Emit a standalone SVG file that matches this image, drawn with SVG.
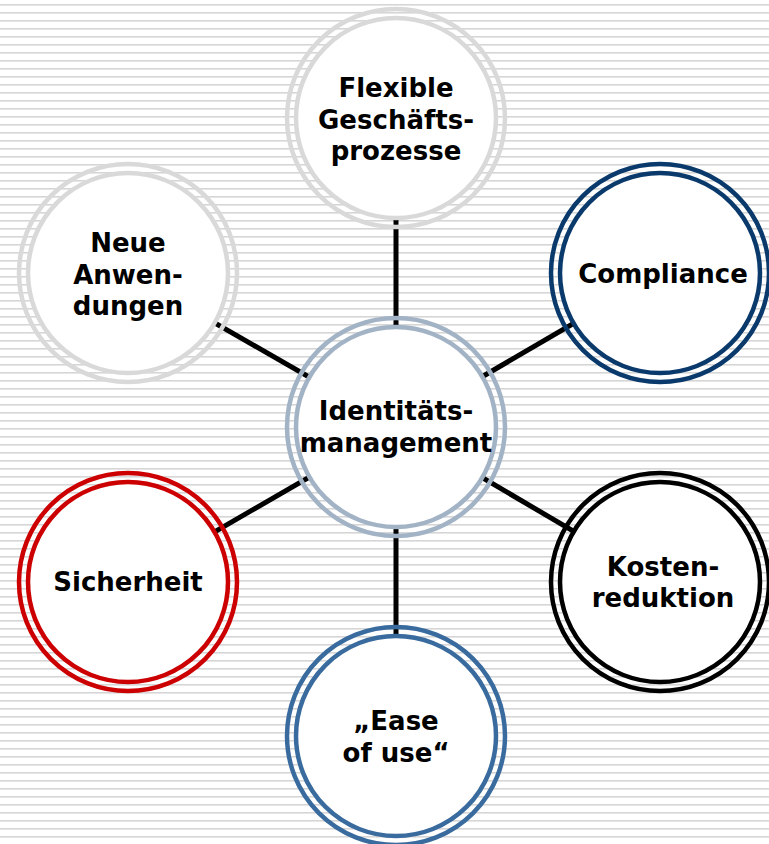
<svg xmlns="http://www.w3.org/2000/svg" width="769" height="844" viewBox="0 0 769 844">
<defs>
<pattern id="stripes" x="0" y="4" width="769" height="8" patternUnits="userSpaceOnUse">
<rect x="0" y="0" width="769" height="1.6" fill="#d6d6d6"/>
</pattern>
</defs>
<style>
.outer{fill:none;stroke-width:4.5}
.inner{fill:#ffffff;stroke-width:4.5}
.lbl{font-family:"DejaVu Sans",Verdana,sans-serif;font-weight:bold;font-size:26px;fill:#000;text-anchor:middle}
.gray{stroke:#d9d9d9}
.center{stroke:#a3b3c6}
.navy{stroke:#0a3a6c}
.black{stroke:#000000}
.blue{stroke:#3a6b9e}
.red{stroke:#cc0000}
.conn line{stroke:#000;stroke-width:5}
</style>
<rect width="769" height="844" fill="#ffffff"/>
<rect width="769" height="844" fill="url(#stripes)"/>
<g id="connectors" class="conn">
<line x1="396" y1="427" x2="396" y2="118"/>
<line x1="396" y1="427" x2="128" y2="273"/>
<line x1="396" y1="427" x2="660" y2="273"/>
<line x1="396" y1="427" x2="128" y2="582"/>
<line x1="396" y1="427" x2="660" y2="582"/>
<line x1="396" y1="427" x2="396" y2="736"/>
</g>
<g id="node-flexible">
<circle class="outer gray" cx="396" cy="118" r="109"/>
<circle class="inner gray" cx="396" cy="118" r="100"/>
<text class="lbl" x="396" y="97">Flexible</text>
<text class="lbl" x="396" y="129">Geschäfts-</text>
<text class="lbl" x="396" y="160">prozesse</text>
</g>
<g id="node-neue">
<circle class="outer gray" cx="128" cy="273" r="109"/>
<circle class="inner gray" cx="128" cy="273" r="100"/>
<text class="lbl" x="128" y="252">Neue</text>
<text class="lbl" x="128" y="284">Anwen-</text>
<text class="lbl" x="128" y="315">dungen</text>
</g>
<g id="node-compliance">
<circle class="outer navy" cx="660" cy="273" r="109"/>
<circle class="inner navy" cx="660" cy="273" r="100"/>
<text class="lbl" x="663" y="283">Compliance</text>
</g>
<g id="node-center">
<circle class="outer center" cx="396" cy="427" r="109"/>
<circle class="inner center" cx="396" cy="427" r="100"/>
<text class="lbl" x="396" y="420">Identitäts-</text>
<text class="lbl" x="396" y="452">management</text>
</g>
<g id="node-sicherheit">
<circle class="outer red" cx="128" cy="582" r="109"/>
<circle class="inner red" cx="128" cy="582" r="100"/>
<text class="lbl" x="128" y="591">Sicherheit</text>
</g>
<g id="node-kosten">
<circle class="outer black" cx="660" cy="582" r="109"/>
<circle class="inner black" cx="660" cy="582" r="100"/>
<text class="lbl" x="663" y="576">Kosten-</text>
<text class="lbl" x="663" y="607">reduktion</text>
</g>
<g id="node-ease">
<circle class="outer blue" cx="396" cy="736" r="109"/>
<circle class="inner blue" cx="396" cy="736" r="100"/>
<text class="lbl" x="396" y="730">„Ease</text>
<text class="lbl" x="396" y="762">of use“</text>
</g>
</svg>
